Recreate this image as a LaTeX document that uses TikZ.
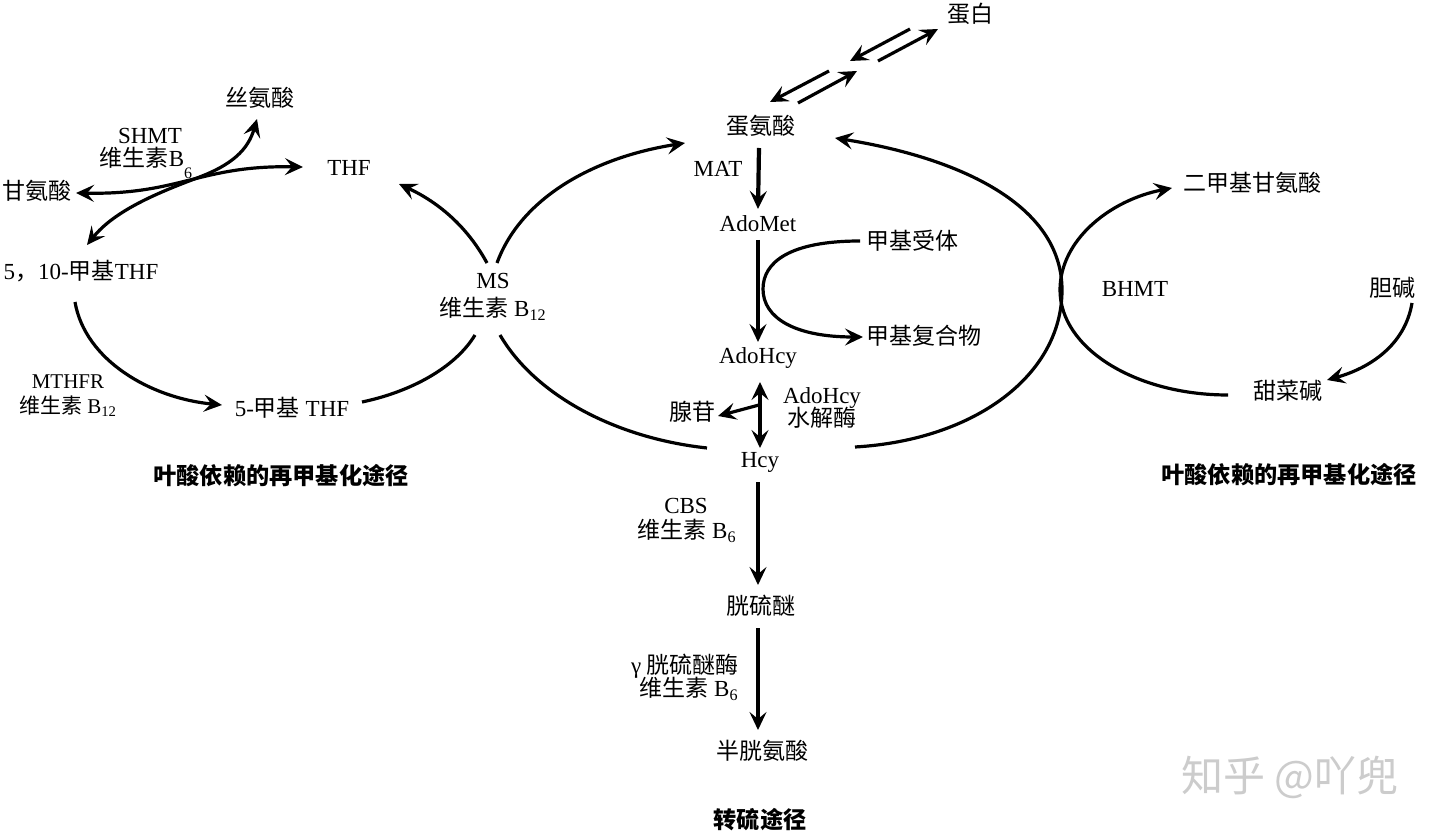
\documentclass[tikz,border=0pt]{standalone}
\usepackage{fontspec}
\setmainfont{Liberation Serif}
\newfontfamily\cjk{Noto Sans CJK SC}
\usetikzlibrary{arrows.meta,calc}
\begin{document}
\begin{tikzpicture}[x=0.5pt,y=-0.5pt,
  lbl/.style={inner sep=0pt, font=\fontsize{11.5}{13}\selectfont, text height=0.8em, text depth=0.15em},
  ttl/.style={inner sep=0pt, font=\fontsize{11.6}{13}\selectfont\bfseries, text height=0.8em, text depth=0.15em},
  wmark/.style={inner sep=0pt, font=\fontsize{21}{22}\selectfont, text=black!20},
  tip/.tip={Stealth[length=9pt,width=8.5pt,inset=3.5pt]},
  con/.style={line width=1.6pt, -tip},
  con2/.style={line width=1.6pt, tip-tip},
  plain/.style={line width=1.6pt},
  main/.style={line width=2.1pt, -tip},
  main2/.style={line width=2.1pt, tip-tip},
]
\useasboundingbox[fill=white] (0,0) rectangle (1440,839);

% ---------- labels ----------
\node[lbl] (prot) at (970,16) {\cjk 蛋白};
\node[lbl] (met) at (761,128) {\cjk 蛋氨酸};
\node[lbl] (mat) at (718,170) {MAT};
\node[lbl] (adomet) at (758,225) {AdoMet};
\node[lbl] (acc) at (912,243) {\cjk 甲基受体};
\node[lbl] (mcomp) at (924,338) {\cjk 甲基复合物};
\node[lbl] (adohcy) at (758,357) {AdoHcy};
\node[lbl] (hyd1) at (822,397) {AdoHcy};
\node[lbl] (hyd2) at (822,420) {\cjk 水解酶};
\node[lbl] (aden) at (692,414) {\cjk 腺苷};
\node[lbl] (hcy) at (760,461) {Hcy};
\node[lbl] (cbs1) at (686,507) {CBS};
\node[lbl] (cbs2) at (687,532) {{\cjk 维生素} B\textsubscript{6}};
\node[lbl] (cysta) at (761,608) {\cjk 胱硫醚};
\node[lbl] (cgl1) at (685,667) {γ {\cjk 胱硫醚酶}};
\node[lbl] (cgl2) at (689,690) {{\cjk 维生素} B\textsubscript{6}};
\node[lbl] (cys) at (762,753) {\cjk 半胱氨酸};
\node[ttl] (t3) at (760,822) {\cjk 转硫途径};

\node[lbl] (ser) at (260,100) {\cjk 丝氨酸};
\node[lbl] (shmt1) at (150,137) {SHMT};
\node[lbl] (shmt2) at (146,160) {{\cjk 维生素}B\raisebox{-1.1ex}{\fontsize{8}{8}\selectfont 6}};
\node[lbl] (gly) at (37,193) {\cjk 甘氨酸};
\node[lbl] (thf) at (349,169) {THF};
\node[lbl] (mthf) at (81,273) {5{\cjk ，}10-{\cjk 甲基}THF};
\node[lbl] (mthfr1) at (68,382) {\fontsize{10.5}{12}\selectfont MTHFR};
\node[lbl] (mthfr2) at (68,407) {\fontsize{10.5}{12}\selectfont{\cjk 维生素} B\textsubscript{12}};
\node[lbl] (fmthf) at (292,410) {5-{\cjk 甲基} THF};
\node[lbl] (ms) at (493,282) {MS};
\node[lbl] (msb) at (493,310) {{\cjk 维生素} B\textsubscript{12}};
\node[ttl] (t1) at (281,478) {\cjk 叶酸依赖的再甲基化途径};

\node[lbl] (dmg) at (1252,185) {\cjk 二甲基甘氨酸};
\node[lbl] (bhmt) at (1135,290) {BHMT};
\node[lbl] (cho) at (1392,290) {\cjk 胆碱};
\node[lbl] (bet) at (1288,393) {\cjk 甜菜碱};
\node[ttl] (t2) at (1289,477) {\cjk 叶酸依赖的再甲基化途径};

\node[wmark] (wm) at (1290,777) {\cjk 知乎 @吖兜};

% ---------- protein exchange ----------
\coordinate (pa1) at (910,29); \coordinate (pa2) at (850,61);
\coordinate (pb1) at (878,61); \coordinate (pb2) at (938,29);
\coordinate (pc1) at (829,71); \coordinate (pc2) at (770,102);
\coordinate (pd1) at (798,103); \coordinate (pd2) at (857,71);
\draw[con] (pa1) -- (pa2);
\draw[con] (pb1) -- (pb2);
\draw[con] (pc1) -- (pc2);
\draw[con] (pd1) -- (pd2);

% ---------- central column ----------
\draw[main] ($(met)+(-2,20)$) -- ($(adomet)+(0,-16)$);
\draw[main] ($(adomet)+(0,15)$) -- ($(adohcy)+(0,-15)$);
\draw[main2] ($(adohcy)+(2,25)$) -- ($(hcy)+(0,-13)$);
\draw[con] ($(adohcy)+(1,48)$) -- ($(aden)+(26,2)$);
\draw[main] ($(hcy)+(-2,21)$) -- ($(cysta)+(-3,-23)$);
\draw[main] ($(cysta)+(-3,20)$) -- ($(cys)+(-4,-23)$);
\draw[con] ($(acc)+(-52,-2)$) .. controls (790,241) and (763,262) .. (763,289)
  .. controls (763,318) and (795,337) .. ($(mcomp)+(-61,-1)$);

% ---------- MS cycle ----------
\draw[con] ($(ms)+(4,-19)$) .. controls (520,200) and (590,158) .. ($(met)+(-76,15)$);
\draw[con] ($(ms)+(-6,-19)$) .. controls (468,228) and (440,203) .. ($(thf)+(50,15)$);
\draw[plain] ($(fmthf)+(70,-8)$) .. controls (410,392) and (455,368) .. ($(msb)+(-18,25)$);
\draw[plain] ($(msb)+(7,25)$) .. controls (535,395) and (615,438) .. ($(hcy)+(-53,-13)$);

% ---------- right loop ----------
\draw[con] ($(hcy)+(95,-14)$) .. controls (975,440) and (1062,375) .. (1062,290)
  .. controls (1062,205) and (960,158) .. ($(met)+(74,10)$);
\draw[con] ($(bet)+(-60,2)$) .. controls (1135,395) and (1060,348) .. (1060,290)
  .. controls (1060,240) and (1110,200) .. ($(dmg)+(-80,3)$);
\draw[con] ($(cho)+(20,13)$) .. controls (1405,345) and (1370,368) .. ($(bet)+(39,-13)$);

% ---------- SHMT / MTHFR ----------
\draw[con2] ($(gly)+(39,0)$) .. controls (180,195) and (200,165) .. ($(thf)+(-46,-2)$);
\draw[con2] ($(mthf)+(6,-28)$) .. controls (115,210) and (160,192) .. (197,178)
  .. controls (232,165) and (248,150) .. ($(ser)+(-3,19)$);
\draw[con] ($(mthf)+(-6,29)$) .. controls (85,360) and (150,398) .. ($(fmthf)+(-70,-5)$);
\end{tikzpicture}
\end{document}
